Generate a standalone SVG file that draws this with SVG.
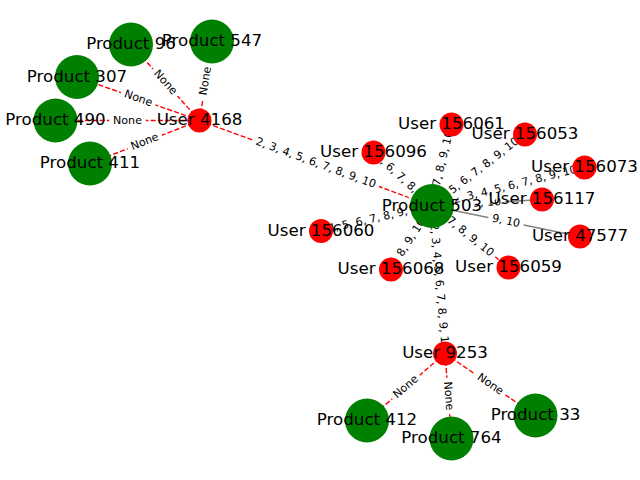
<svg xmlns="http://www.w3.org/2000/svg" width="640" height="480" viewBox="0 0 640 480">
<style>
.er{stroke:#ff0000;stroke-width:1.4;stroke-dasharray:5.1 2.2;fill:none}
.eg{stroke:#808080;stroke-width:1.4;fill:none}
.lb rect{fill:#fff;stroke:#fff;stroke-width:1}
.lb text{font-family:"DejaVu Sans",sans-serif;font-size:11.1px;text-anchor:middle;fill:#000}
.p circle{fill:#008000}
.u circle{fill:#ff0000}
.n text{font-family:"DejaVu Sans",sans-serif;font-size:16.67px;text-anchor:middle;fill:#000}
</style>
<rect width="640" height="480" fill="#fff"/>
<g id="connectors">
<line class="er" x1="199.5" y1="120.5" x2="131" y2="44.5"/>
<line class="er" x1="199.5" y1="120.5" x2="212" y2="41.5"/>
<line class="er" x1="199.5" y1="120.5" x2="77" y2="77"/>
<line class="er" x1="199.5" y1="120.5" x2="55.5" y2="120.5"/>
<line class="er" x1="199.5" y1="120.5" x2="90" y2="163.5"/>
<line class="er" x1="199.5" y1="120.5" x2="432" y2="206"/>
<line class="er" x1="432" y1="206" x2="373.5" y2="152.5"/>
<line class="er" x1="432" y1="206" x2="321" y2="231"/>
<line class="er" x1="432" y1="206" x2="391" y2="269.5"/>
<line class="er" x1="432" y1="206" x2="445" y2="353.5"/>
<line class="er" x1="432" y1="206" x2="508.5" y2="267.5"/>
<line class="eg" x1="432" y1="206" x2="580" y2="236.5"/>
<line class="eg" x1="432" y1="206" x2="542" y2="199.5"/>
<line class="er" x1="432" y1="206" x2="584.5" y2="167.5"/>
<line class="er" x1="432" y1="206" x2="525" y2="134.5"/>
<line class="er" x1="432" y1="206" x2="451.5" y2="124.5"/>
<line class="er" x1="445" y1="353.5" x2="367" y2="420.5"/>
<line class="er" x1="445" y1="353.5" x2="451.5" y2="438.5"/>
<line class="er" x1="445" y1="353.5" x2="535.5" y2="415.5"/>
<g class="lb" transform="translate(165.25,82.5) rotate(47.97)"><rect x="-17.8" y="-8.7" width="35.6" height="17.4" rx="3.3"/><text y="3.06">None</text></g>
<g class="lb" transform="translate(205.75,81) rotate(-81)"><rect x="-17.8" y="-8.7" width="35.6" height="17.4" rx="3.3"/><text y="3.06">None</text></g>
<g class="lb" transform="translate(138.25,98.75) rotate(19.55)"><rect x="-17.8" y="-8.7" width="35.6" height="17.4" rx="3.3"/><text y="3.06">None</text></g>
<g class="lb" transform="translate(127.5,120.5)"><rect x="-17.8" y="-8.7" width="35.6" height="17.4" rx="3.3"/><text y="3.06">None</text></g>
<g class="lb" transform="translate(144.75,142) rotate(-21.44)"><rect x="-17.8" y="-8.7" width="35.6" height="17.4" rx="3.3"/><text y="3.06">None</text></g>
<g class="lb" transform="translate(315.75,163.25) rotate(20.19)"><rect x="-66.85" y="-8.7" width="133.7" height="17.4" rx="3.3"/><text y="3.06">2, 3, 4, 5, 6, 7, 8, 9, 10</text></g>
<g class="lb" transform="translate(402.75,179.25) rotate(42.44)"><rect x="-52.7" y="-8.7" width="105.4" height="17.4" rx="3.3"/><text y="3.06">4, 5, 6, 7, 8, 9, 10</text></g>
<g class="lb" transform="translate(376.5,218.5) rotate(-12.69)"><rect x="-52.7" y="-8.7" width="105.4" height="17.4" rx="3.3"/><text y="3.06">4, 5, 6, 7, 8, 9, 10</text></g>
<g class="lb" transform="translate(411.5,237.75) rotate(-57.15)"><rect x="-28" y="-8.7" width="56" height="17.4" rx="3.3"/><text y="3.06">8, 9, 10</text></g>
<g class="lb" transform="translate(438.5,279.75) rotate(84.96)"><rect x="-73.9" y="-8.7" width="147.8" height="17.4" rx="3.3"/><text y="3.06">1, 2, 3, 4, 5, 6, 7, 8, 9, 10</text></g>
<g class="lb" transform="translate(470.25,236.75) rotate(38.79)"><rect x="-31.55" y="-8.7" width="63.1" height="17.4" rx="3.3"/><text y="3.06">7, 8, 9, 10</text></g>
<g class="lb" transform="translate(506,221.25) rotate(11.64)"><rect x="-17.4" y="-8.7" width="34.8" height="17.4" rx="3.3"/><text y="3.06">9, 10</text></g>
<g class="lb" transform="translate(487,202.75) rotate(-3.38)"><rect x="-17.4" y="-8.7" width="34.8" height="17.4" rx="3.3"/><text y="3.06">9, 10</text></g>
<g class="lb" transform="translate(508.25,186.75) rotate(-14.17)"><rect x="-73.9" y="-8.7" width="147.8" height="17.4" rx="3.3"/><text y="3.06">1, 2, 3, 4, 5, 6, 7, 8, 9, 10</text></g>
<g class="lb" transform="translate(478.5,170.25) rotate(-37.56)"><rect x="-52.7" y="-8.7" width="105.4" height="17.4" rx="3.3"/><text y="3.06">4, 5, 6, 7, 8, 9, 10</text></g>
<g class="lb" transform="translate(441.75,165.25) rotate(-76.54)"><rect x="-38.6" y="-8.7" width="77.2" height="17.4" rx="3.3"/><text y="3.06">6, 7, 8, 9, 10</text></g>
<g class="lb" transform="translate(406,387) rotate(-40.66)"><rect x="-17.8" y="-8.7" width="35.6" height="17.4" rx="3.3"/><text y="3.06">None</text></g>
<g class="lb" transform="translate(448.25,396) rotate(85.63)"><rect x="-17.8" y="-8.7" width="35.6" height="17.4" rx="3.3"/><text y="3.06">None</text></g>
<g class="lb" transform="translate(490.25,384.5) rotate(34.41)"><rect x="-17.8" y="-8.7" width="35.6" height="17.4" rx="3.3"/><text y="3.06">None</text></g>
</g>
<g id="user-4168" class="n u"><circle cx="199.5" cy="120.5" r="12"/><text x="199.5" y="125.1">User 4168</text></g>
<g id="product-96" class="n p"><circle cx="131" cy="44.5" r="22"/><text x="131" y="49.1">Product 96</text></g>
<g id="product-547" class="n p"><circle cx="212" cy="41.5" r="22"/><text x="212" y="46.1">Product 547</text></g>
<g id="product-307" class="n p"><circle cx="77" cy="77" r="22"/><text x="77" y="81.6">Product 307</text></g>
<g id="product-490" class="n p"><circle cx="55.5" cy="120.5" r="22"/><text x="55.5" y="125.1">Product 490</text></g>
<g id="product-411" class="n p"><circle cx="90" cy="163.5" r="22"/><text x="90" y="168.1">Product 411</text></g>
<g id="product-503" class="n p"><circle cx="432" cy="206" r="22"/><text x="432" y="210.6">Product 503</text></g>
<g id="user-156061" class="n u"><circle cx="451.5" cy="124.5" r="12"/><text x="451.5" y="129.1">User 156061</text></g>
<g id="user-156053" class="n u"><circle cx="525" cy="134.5" r="12"/><text x="525" y="139.1">User 156053</text></g>
<g id="user-156096" class="n u"><circle cx="373.5" cy="152.5" r="12"/><text x="373.5" y="157.1">User 156096</text></g>
<g id="user-156073" class="n u"><circle cx="584.5" cy="167.5" r="12"/><text x="584.5" y="172.1">User 156073</text></g>
<g id="user-156117" class="n u"><circle cx="542" cy="199.5" r="12"/><text x="542" y="204.1">User 156117</text></g>
<g id="user-47577" class="n u"><circle cx="580" cy="236.5" r="12"/><text x="580" y="241.1">User 47577</text></g>
<g id="user-156060" class="n u"><circle cx="321" cy="231" r="12"/><text x="321" y="235.6">User 156060</text></g>
<g id="user-156068" class="n u"><circle cx="391" cy="269.5" r="12"/><text x="391" y="274.1">User 156068</text></g>
<g id="user-156059" class="n u"><circle cx="508.5" cy="267.5" r="12"/><text x="508.5" y="272.1">User 156059</text></g>
<g id="user-9253" class="n u"><circle cx="445" cy="353.5" r="12"/><text x="445" y="358.1">User 9253</text></g>
<g id="product-412" class="n p"><circle cx="367" cy="420.5" r="22"/><text x="367" y="425.1">Product 412</text></g>
<g id="product-764" class="n p"><circle cx="451.5" cy="438.5" r="22"/><text x="451.5" y="443.1">Product 764</text></g>
<g id="product-33" class="n p"><circle cx="535.5" cy="415.5" r="22"/><text x="535.5" y="420.1">Product 33</text></g>
</svg>
